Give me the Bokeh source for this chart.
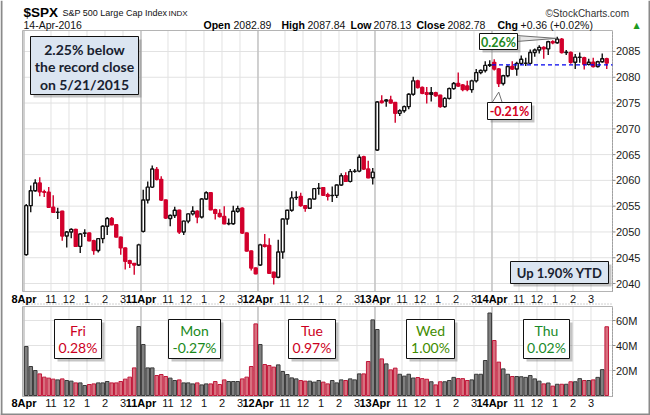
import numpy as np
from bokeh.plotting import figure
from bokeh.models import ColumnDataSource, Label, LabelSet, Range1d
from bokeh.embed import file_html
from bokeh.resources import INLINE
from bokeh.core.properties import value

# ---------------------------------------------------------------- data
session_days = ["8Apr", "11Apr", "12Apr", "13Apr", "14Apr"]
hour_marks = ["11:00", "12:00", "13:00", "14:00", "15:00"]
hour_labels = ["11", "12", "1", "2", "3"]
bars_per_session = 26          # 15-minute bars 9:30 - 16:00
price_ticks = [2040, 2045, 2050, 2055, 2060, 2065, 2070, 2075, 2080, 2085]
volume_ticks = [20, 40, 60]    # millions

open_ = [
    2045.6, 2055.1, 2058.0, 2059.5, 2057.8, 2057.7, 2054.8, 2053.8, 2054.0, 2049.2, 2050.0, 2050.5, 2047.2,
    2049.75, 2049.8, 2048.3, 2046.4, 2048.7, 2051.1, 2052.6, 2051.4, 2049.0, 2046.9, 2044.4, 2043.9, 2043.6,
    2050.1, 2056.2, 2058.7, 2062.1, 2060.2, 2056.2, 2052.6, 2053.2, 2054.2, 2050.0, 2052.1, 2053.5, 2054.0,
    2052.9, 2056.4, 2057.6, 2054.3, 2053.6, 2053.0, 2051.6, 2051.6, 2054.0, 2054.6, 2049.8, 2046.3, 2043.0,
    2043.6, 2047.5, 2047.4, 2042.2, 2041.2, 2046.1, 2052.5, 2054.2, 2056.65, 2056.9, 2055.1, 2054.6, 2056.4,
    2058.45, 2058.6, 2057.2, 2057.05, 2057.1, 2059.1, 2060.9, 2059.8, 2061.75, 2061.8, 2064.6, 2062.2, 2060.5,
    2065.9, 2075.4, 2075.4, 2075.6, 2075.1, 2073.0, 2073.5, 2074.3, 2076.7, 2079.3, 2078.0, 2077.0, 2076.7,
    2077.0, 2076.5, 2074.3, 2075.9, 2077.8, 2078.8, 2078.5, 2078.3, 2077.6, 2079.3, 2080.9, 2081.3, 2082.3,
    2082.89, 2081.6, 2078.8, 2080.3, 2082.1, 2081.6, 2082.7, 2082.7, 2082.7, 2084.8, 2085.3, 2085.8, 2085.5,
    2086.9, 2086.7, 2087.4, 2084.8, 2084.8, 2082.9, 2083.85, 2083.8, 2082.5, 2082.9, 2082.1, 2083.0, 2083.6,
]
high = [
    2055.4, 2059.0, 2060.2, 2060.6, 2058.2, 2058.7, 2057.1, 2054.7, 2054.1, 2050.2, 2050.7, 2050.6, 2049.8,
    2050.5, 2049.9, 2048.5, 2048.8, 2051.3, 2052.9, 2052.9, 2051.5, 2049.1, 2047.0, 2044.6, 2044.0, 2047.7,
    2058.2, 2059.8, 2062.9, 2062.6, 2060.8, 2056.3, 2053.4, 2054.9, 2054.3, 2052.2, 2053.6, 2055.0, 2054.2,
    2056.6, 2057.9, 2057.7, 2054.5, 2054.4, 2055.0, 2052.6, 2055.1, 2055.1, 2054.8, 2049.9, 2046.4, 2043.1,
    2047.7, 2049.6, 2048.8, 2042.3, 2048.5, 2052.6, 2054.3, 2057.9, 2057.9, 2057.6, 2055.2, 2056.5, 2058.5,
    2059.5, 2058.7, 2057.6, 2058.8, 2059.2, 2061.4, 2061.6, 2062.2, 2062.2, 2065.0, 2064.8, 2063.8, 2062.4,
    2075.4, 2076.5, 2075.8, 2076.4, 2075.2, 2073.8, 2074.5, 2076.9, 2080.1, 2079.5, 2078.2, 2078.1, 2078.1,
    2077.2, 2076.6, 2076.1, 2078.0, 2079.1, 2080.9, 2078.7, 2079.3, 2079.5, 2081.6, 2081.5, 2083.1, 2083.3,
    2083.5, 2081.8, 2080.5, 2082.3, 2083.1, 2083.0, 2084.2, 2083.8, 2085.4, 2085.6, 2086.2, 2086.0, 2087.1,
    2087.2, 2087.84, 2087.6, 2085.3, 2085.0, 2084.5, 2084.8, 2084.0, 2083.6, 2083.8, 2083.2, 2084.6, 2083.8,
]
low = [
    2045.4, 2053.8, 2057.8, 2056.9, 2056.8, 2054.7, 2053.7, 2052.5, 2048.3, 2047.0, 2048.8, 2047.1, 2045.9,
    2049.0, 2048.2, 2045.6, 2046.0, 2047.8, 2049.4, 2051.3, 2048.9, 2045.6, 2042.7, 2043.0, 2041.7, 2043.4,
    2049.9, 2055.5, 2058.5, 2060.0, 2056.0, 2052.5, 2051.1, 2052.7, 2049.6, 2049.4, 2051.7, 2053.2, 2051.7,
    2052.6, 2056.2, 2054.2, 2052.4, 2052.8, 2051.5, 2051.3, 2051.4, 2053.7, 2049.6, 2046.2, 2042.5, 2041.8,
    2043.4, 2047.0, 2041.9, 2039.8, 2041.0, 2044.8, 2051.4, 2053.9, 2056.2, 2054.9, 2053.9, 2054.5, 2056.3,
    2057.2, 2057.0, 2056.1, 2055.8, 2056.6, 2058.9, 2059.7, 2059.6, 2061.5, 2061.6, 2062.0, 2060.4, 2059.2,
    2065.7, 2074.9, 2074.3, 2074.9, 2071.2, 2072.5, 2073.1, 2073.8, 2076.4, 2077.8, 2076.7, 2074.9, 2075.3,
    2076.2, 2074.1, 2074.1, 2075.7, 2077.6, 2078.1, 2077.3, 2077.3, 2077.0, 2079.0, 2080.6, 2080.9, 2082.0,
    2081.3, 2078.13, 2078.4, 2080.0, 2081.4, 2080.3, 2082.4, 2082.2, 2082.5, 2084.0, 2084.6, 2083.6, 2084.3,
    2086.4, 2086.5, 2084.6, 2084.3, 2082.6, 2081.6, 2082.8, 2081.5, 2082.3, 2081.9, 2081.9, 2082.8, 2081.6,
]
close = [
    2055.1, 2058.0, 2059.5, 2057.8, 2057.7, 2054.8, 2053.8, 2053.85, 2049.2, 2050.0, 2050.5, 2047.2, 2049.6,
    2049.8, 2048.3, 2046.4, 2048.7, 2051.1, 2052.6, 2051.4, 2049.0, 2046.9, 2044.3, 2043.9, 2043.6, 2047.5,
    2056.2, 2058.7, 2062.2, 2060.2, 2056.2, 2052.7, 2053.2, 2054.2, 2050.0, 2052.1, 2053.5, 2054.0, 2052.9,
    2056.4, 2057.6, 2054.3, 2053.6, 2053.0, 2051.6, 2051.65, 2054.0, 2054.5, 2049.8, 2046.3, 2043.0, 2041.9,
    2047.5, 2047.2, 2042.0, 2041.2, 2046.1, 2052.5, 2054.2, 2056.6, 2056.7, 2055.1, 2054.6, 2056.4, 2058.4,
    2058.5, 2057.1, 2056.9, 2057.1, 2059.1, 2060.9, 2059.8, 2061.7, 2061.8, 2064.5, 2062.2, 2060.5, 2061.6,
    2075.2, 2075.1, 2075.6, 2075.0, 2073.0, 2073.5, 2074.3, 2076.7, 2079.3, 2078.0, 2076.9, 2076.7, 2077.0,
    2076.4, 2074.3, 2075.9, 2077.8, 2078.8, 2078.3, 2077.6, 2077.6, 2079.3, 2080.9, 2081.3, 2082.3, 2082.42,
    2081.6, 2078.8, 2080.3, 2082.1, 2081.6, 2082.7, 2083.5, 2082.75, 2084.8, 2085.3, 2085.8, 2085.5, 2086.9,
    2086.7, 2087.4, 2084.8, 2084.85, 2082.9, 2083.9, 2083.9, 2082.5, 2082.9, 2082.1, 2083.0, 2083.6, 2082.78,
]
volume_m = [
    39.2, 23.2, 20.0, 17.3, 14.7, 13.9, 13.1, 12.5, 13.3, 12.0, 11.5, 10.1, 10.1,
    8.0, 8.8, 9.3, 10.1, 10.1, 11.2, 10.1, 10.1, 11.2, 13.1, 14.7, 22.1, 55.2,
    40.8, 22.1, 22.1, 16.0, 16.8, 15.2, 13.9, 12.0, 12.5, 10.1, 10.1, 9.3, 10.1,
    8.5, 9.3, 9.3, 11.2, 8.8, 12.5, 11.2, 11.2, 11.2, 13.3, 14.7, 23.2, 57.3,
    40.8, 24.8, 24.0, 22.7, 24.5, 19.2, 16.8, 14.1, 13.3, 12.0, 11.5, 11.5, 10.7,
    12.0, 10.7, 9.3, 12.0, 10.1, 12.5, 12.0, 13.3, 12.5, 17.3, 17.3, 27.2, 60.5,
    52.8, 29.3, 25.3, 20.5, 21.9, 17.0, 15.5, 17.0, 14.0, 14.4, 13.5, 13.0, 11.0,
    8.5, 11.0, 11.0, 12.0, 14.5, 13.5, 13.5, 12.0, 12.5, 17.0, 17.0, 28.0, 66.0,
    44.0, 26.7, 21.3, 17.0, 15.2, 15.2, 15.0, 14.5, 16.0, 13.3, 11.5, 9.3, 10.0,
    7.5, 9.0, 9.0, 9.0, 11.0, 11.0, 13.5, 12.0, 12.0, 12.5, 14.5, 20.7, 55.0,
]
weekday_names = ["Fri", "Mon", "Tue", "Wed", "Thu"]
weekday_changes = ["0.28%", "-0.27%", "0.97%", "1.00%", "0.02%"]
ticker_symbol = "$SPX"
ticker_name = "S&P 500 Large Cap Index"
exchange = "INDX"
quote_date = "14-Apr-2016"
quote_items = [("Open", "2082.89"), ("High", "2087.84"), ("Low", "2078.13"),
               ("Close", "2082.78"), ("Chg", "+0.36 (+0.02%)")]
record_note = ["2.25% below", "the record close", "on 5/21/2015"]
ytd_note = "Up 1.90% YTD"
high_note = "0.26%"
low_note = "-0.21%"

# ---------------------------------------------------------------- geometry (page px)
W, H = 650, 415
FR_L, FR_R = 22.0, 612.0
BAR_PX = 4.5
X0 = -0.83
X1 = X0 + (FR_R - FR_L) / BAR_PX
PX_PER_PT = 5.156
P_REF_PX = 283.0
P_TOP, P_BOT = 30.0, 291.0
V_ZERO_PX, M_PER_PX = 395.0, 0.8
V_TOP, V_BOT = 306.0, 396.0


def xd(px):
    return X0 + (px - FR_L) / BAR_PX


def yp(py):
    return price_ticks[0] + (P_REF_PX - py) / PX_PER_PT


def yv(py):
    return (V_ZERO_PX - py) * M_PER_PX


FONT = "Liberation Sans"
BOXFONT = "Lato"
GRID = "#e2e2e2"
DAYGRID = "#c4c4c4"
FRAME = "#b4b4b4"
RED = "#d2002c"

p = figure(width=W, height=H, x_range=Range1d(xd(0), xd(W)), y_range=Range1d(yp(H), yp(0)),
           x_axis_location=None, y_axis_location=None,
           output_backend="svg", toolbar_location=None,
           min_border_left=0, min_border_right=0, min_border_top=0, min_border_bottom=0)
p.extra_y_ranges = {"vol": Range1d(yv(H), yv(0)), "pix": Range1d(H, 0)}
p.outline_line_color = None
p.xgrid.visible = False
p.ygrid.visible = False
p.background_fill_color = "white"
p.border_fill_color = "white"

n = len(close)
idx = np.arange(n)
o = np.array(open_)
c = np.array(close)
h = np.array(high)
lo = np.array(low)
up = c >= o
src = ColumnDataSource(dict(
    x=idx, top=np.maximum(o, c), bottom=np.minimum(o, c), h=h, l=lo,
    fill=np.where(up, "white", RED), wick=np.where(up, "#111111", RED),
    vol=np.array(volume_m),
    vfill=np.where(up, "#808080", "#d7707f"), vline=np.where(up, "#3a3a3a", "#c0183a"),
))

day_pos = [d * bars_per_session - 0.5 for d in range(len(session_days))]
hour_off = [(int(t.split(":")[0]) * 60 - 570) / 15 for t in hour_marks]
hour_pos = [dp + off for dp in day_pos for off in hour_off]
hour_txt = [lab for _ in day_pos for lab in hour_labels]


# ---------------------------------------------------------------- panel frames, grids, axes
def panel(rng, top, bot, ticks, tick_text):
    kw = {} if rng is None else {"y_range_name": rng}
    conv = yp if rng is None else yv
    yt, yb = conv(top), conv(bot)
    p.segment(x0=hour_pos, y0=[yb] * len(hour_pos), x1=hour_pos, y1=[yt] * len(hour_pos),
              line_color=GRID, line_width=1, **kw)
    p.segment(x0=X0, y0=ticks, x1=X1, y1=ticks, line_color=GRID, line_width=1, **kw)
    p.segment(x0=day_pos, y0=[yb] * len(day_pos), x1=day_pos, y1=[yt] * len(day_pos),
              line_color=DAYGRID, line_width=1.6, **kw)
    p.quad(left=X0, right=X1, top=yt, bottom=yb, fill_color=None, line_color=FRAME,
           line_width=1, **kw)
    p.segment(x0=X1, y0=yb, x1=X1, y1=yt, line_color="#8c8c8c", line_width=1,
              line_dash="1 2", **kw)
    p.segment(x0=X1, y0=ticks, x1=xd(FR_R + 3), y1=ticks, line_color="#8c8c8c", **kw)
    s = ColumnDataSource(dict(x=[xd(FR_R + 3.5)] * len(ticks), y=ticks, t=tick_text))
    p.add_layout(LabelSet(x="x", y="y", text="t", source=s, text_align="left",
                          text_baseline="middle", text_font=value(FONT),
                          text_font_size=value("11px"), text_color=value("#1a1a1a"), **kw))


panel(None, P_TOP, P_BOT, price_ticks, [str(t) for t in price_ticks])
panel("vol", V_TOP, V_BOT, volume_ticks, [f"{t}M" for t in volume_ticks])


def xlabels(ypix):
    s1 = ColumnDataSource(dict(x=day_pos, y=[ypix] * len(day_pos), t=session_days))
    s2 = ColumnDataSource(dict(x=hour_pos, y=[ypix] * len(hour_pos), t=hour_txt))
    p.add_layout(LabelSet(x="x", y="y", text="t", source=s2, text_align="center",
                          text_baseline="middle", text_font=value(FONT), y_range_name="pix",
                          text_font_size=value("11px"), text_color=value("#111111")))
    p.add_layout(LabelSet(x="x", y="y", text="t", source=s1, text_align="center",
                          text_baseline="middle", text_font=value(FONT), y_range_name="pix",
                          text_font_size=value("11px"), text_font_style=value("bold"),
                          text_color=value("#000000")))


xlabels(298.5)
xlabels(402.5)
p.segment(x0=xd(FR_L), y0=303.5, x1=xd(FR_R), y1=303.5, line_color="#a0a0a0",
          line_dash="1 2", y_range_name="pix")

# ---------------------------------------------------------------- candles and volume
p.segment(x0="x", y0="h", x1="x", y1="l", line_color="wick", line_width=1.4, source=src)
p.vbar(x="x", width=0.66, top="top", bottom="bottom", fill_color="fill",
       line_color="wick", line_width=1.4, source=src)
p.vbar(x="x", width=0.8, top="vol", bottom=0, fill_color="vfill", line_color="vline",
       line_width=1, source=src, y_range_name="vol")

last_day = (len(session_days) - 1) * bars_per_session
prev_close = close[last_day - 1]
p.segment(x0=last_day - 0.5, y0=prev_close, x1=X1, y1=prev_close,
          line_color="#0000ee", line_width=1.3, line_dash="4 3")


# ---------------------------------------------------------------- annotation helpers
def box(l, t, r, b, fill, line="#111111", shadow=True):
    if shadow:
        p.quad(left=xd(l + 3), right=xd(r + 3), top=t + 3, bottom=b + 3,
               fill_color="#6e6e6e", fill_alpha=0.4, line_color=None, y_range_name="pix")
    p.quad(left=xd(l), right=xd(r), top=t, bottom=b, fill_color=fill, line_color=line,
           line_width=1, y_range_name="pix")


def txt(px, py, s, size, color, bold=False, font=BOXFONT, align="center"):
    p.add_layout(Label(x=xd(px), y=py, y_range_name="pix", text=s, text_font=font,
                       text_font_size=f"{size}px", text_color=color,
                       text_font_style="bold" if bold else "normal",
                       text_align=align, text_baseline="middle"))


# session-high callout
ih = last_day + int(np.argmax(h[last_day:]))
p.patch(x=[xd(516), xd(516), ih - 0.2], y=[yp(35), yp(41), h[ih] - 0.3],
        fill_color="#e6e6e6", line_color="#707070", line_width=1)
box(479, 33, 517, 49, "white")
txt(498, 41.5, high_note, 12.5, "#1f8a1f", bold=True)

# session-low callout
il = last_day + int(np.argmin(lo[last_day:]))
p.patch(x=[xd(491), xd(502), il], y=[yp(103), yp(103), lo[il] - 1.0],
        fill_color="white", line_color="#707070", line_width=1)
box(487, 102, 531, 119, "white")
txt(509, 110.5, low_note, 12.5, "#d4001e", bold=True)

box(30, 36, 138, 94, "#dbe5f1")
for i, line in enumerate(record_note):
    txt(84, 48.5 + i * 17.5, line, 14, "#18212f", bold=True)
box(510, 261, 608, 283, "#dbe5f1")
txt(559, 272, ytd_note, 13, "#18212f", bold=True)

box_x = [(54, 101), (168, 220), (288, 335), (406, 454), (523, 569)]
box_col = ["#cc0022", "#1a8a1a", "#cc0022", "#3f8c00", "#1a8a2a"]
for (l, r), name, chg, col in zip(box_x, weekday_names, weekday_changes, box_col):
    box(l, 319, r, 358, "white")
    txt((l + r) / 2, 330, name, 14, col)
    txt((l + r) / 2, 346.5, chg, 14, col)

# ---------------------------------------------------------------- header
txt(23, 12, ticker_symbol, 13.5, "#000000", bold=True, font=FONT, align="left")
txt(62, 12.5, ticker_name, 9, "#111111", font=FONT, align="left")
txt(168, 12.5, exchange, 8, "#111111", font=FONT, align="left")
txt(545, 12.5, "\u00a9StockCharts.com", 10, "#333333", font=FONT, align="left")
txt(23, 24.5, quote_date, 10.5, "#111111", font=FONT, align="left")
q_lab_x = [203, 281, 350, 416, 497]
q_val_x = [233, 307, 373, 447, 520]
for (lab, val), lx, vx in zip(quote_items, q_lab_x, q_val_x):
    txt(lx, 24.5, lab, 10.5, "#000000", bold=True, font=FONT, align="left")
    txt(vx, 24.5, val, 10.5, "#111111", font=FONT, align="left")
txt(633, 24.5, "\u25b2", 8, "#1e9a1e", font="DejaVu Sans", align="left")

# outer border of the chart
p.segment(x0=[xd(1), xd(649), xd(0)], y0=[0, 0, 414], x1=[xd(1), xd(649), xd(W)],
          y1=[H, H, 414], line_color="#8a8a8a", line_width=2, y_range_name="pix")

open("out.html", "w").write(file_html(p, INLINE))
